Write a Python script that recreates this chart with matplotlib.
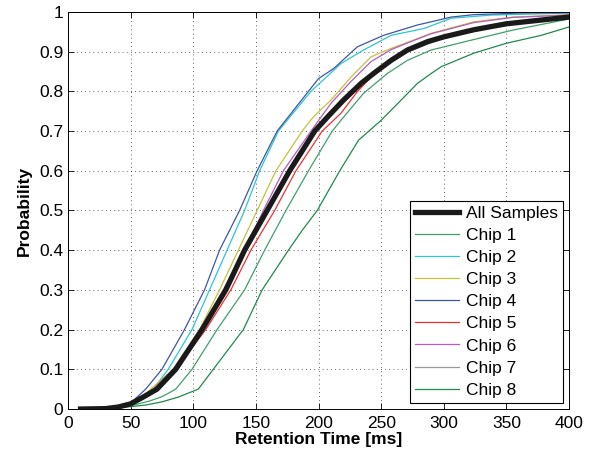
import matplotlib
matplotlib.use('Agg')
import matplotlib.pyplot as plt

# CDF curves: retention time [ms] vs probability
all_x = [10, 30, 40, 50, 60, 71, 86, 107, 126, 141, 159, 177, 197, 208, 220, 234, 244, 258, 271, 287, 300, 324, 350, 400]
all_p = [0, 0.001, 0.005, 0.013, 0.03, 0.05, 0.1, 0.2, 0.3, 0.4, 0.5, 0.6, 0.7, 0.738, 0.778, 0.82, 0.845, 0.878, 0.904, 0.925, 0.937, 0.955, 0.97, 0.987]

chip1_x = [10, 30, 45, 55, 65, 75, 86, 99, 119, 141, 157, 174, 192, 211, 220, 236, 255, 271, 290, 330, 355, 400]
chip1_p = [0, 0.001, 0.005, 0.012, 0.02, 0.031, 0.05, 0.1, 0.2, 0.3, 0.4, 0.5, 0.6, 0.7, 0.735, 0.795, 0.845, 0.878, 0.904, 0.935, 0.954, 0.982]

chip2_x = [10, 30, 40, 50, 68, 80, 99, 113, 127, 141, 153, 168, 194, 218, 236, 258, 284, 306, 338, 400]
chip2_p = [0, 0.002, 0.005, 0.012, 0.05, 0.1, 0.2, 0.3, 0.4, 0.5, 0.6, 0.7, 0.8, 0.87, 0.904, 0.941, 0.958, 0.984, 0.992, 0.997]

chip3_x = [10, 30, 45, 55, 66, 84, 105, 121, 136, 151, 166, 187, 196, 210, 226, 242, 258, 276, 290, 324, 355, 400]
chip3_p = [0, 0.002, 0.008, 0.02, 0.05, 0.1, 0.2, 0.3, 0.4, 0.5, 0.6, 0.7, 0.736, 0.778, 0.836, 0.887, 0.908, 0.929, 0.946, 0.975, 0.987, 0.993]

chip4_x = [10, 30, 40, 50, 62, 75, 93, 109, 121, 137, 151, 167, 178, 192, 200, 212, 231, 252, 279, 290, 306, 324, 360, 400]
chip4_p = [0, 0.002, 0.006, 0.015, 0.05, 0.1, 0.2, 0.3, 0.4, 0.5, 0.6, 0.7, 0.744, 0.8, 0.832, 0.857, 0.912, 0.941, 0.967, 0.975, 0.987, 0.993, 0.997, 0.998]

chip5_x = [10, 30, 45, 55, 70, 86, 110, 130, 146, 165, 182, 203, 218, 231, 247, 266, 284, 300, 330, 360, 400]
chip5_p = [0, 0.001, 0.008, 0.02, 0.05, 0.1, 0.2, 0.3, 0.4, 0.5, 0.6, 0.7, 0.745, 0.799, 0.853, 0.895, 0.92, 0.935, 0.955, 0.972, 0.986]

chip6_x = [10, 30, 45, 55, 68, 84, 106, 124, 141, 156, 172, 194, 210, 226, 242, 258, 276, 290, 324, 355, 400]
chip6_p = [0, 0.002, 0.008, 0.02, 0.05, 0.1, 0.2, 0.3, 0.4, 0.5, 0.6, 0.7, 0.77, 0.825, 0.875, 0.905, 0.928, 0.945, 0.973, 0.986, 0.992]

chip7_x = [10, 30, 45, 55, 72, 87, 108, 127, 142, 160, 178, 198, 221, 235, 258, 272, 300, 330, 360, 400]
chip7_p = [0, 0.001, 0.008, 0.02, 0.05, 0.1, 0.2, 0.3, 0.4, 0.5, 0.6, 0.7, 0.78, 0.82, 0.875, 0.9, 0.935, 0.957, 0.972, 0.986]

chip8_x = [10, 30, 50, 62, 75, 88, 104, 116, 140, 155, 176, 187, 199, 217, 232, 250, 266, 279, 290, 298, 324, 350, 378, 400]
chip8_p = [0, 0.001, 0.006, 0.01, 0.018, 0.03, 0.05, 0.1, 0.2, 0.3, 0.4, 0.45, 0.5, 0.6, 0.677, 0.727, 0.778, 0.82, 0.845, 0.862, 0.896, 0.921, 0.941, 0.962]

chip_labels = ['Chip 1', 'Chip 2', 'Chip 3', 'Chip 4', 'Chip 5', 'Chip 6', 'Chip 7', 'Chip 8']
chip_colors = ['#3fa06c', '#2cc6d0', '#c2c23e', '#3f56a8', '#f03030', '#b45cc0', '#9a9a9a', '#1e8a4c']
chip_data = [(chip1_x, chip1_p), (chip2_x, chip2_p), (chip3_x, chip3_p), (chip4_x, chip4_p),
             (chip5_x, chip5_p), (chip6_x, chip6_p), (chip7_x, chip7_p), (chip8_x, chip8_p)]

plt.rcParams['font.family'] = ['Liberation Sans', 'DejaVu Sans']


def plot():
    fig = plt.figure(figsize=(5.95, 4.57), dpi=100)
    ax = fig.add_axes([0.1143, 0.105, 0.842, 0.869])

    handles = []
    for (xs, ps), lab, col in zip(chip_data, chip_labels, chip_colors):
        h, = ax.plot(xs, ps, color=col, lw=0.9, label=lab, zorder=2)
        handles.append(h)
    h_all, = ax.plot(all_x, all_p, color='#1a1a1a', lw=3.8, label='All Samples', zorder=3)

    ax.set_xlim(0, 400)
    ax.set_ylim(0, 1)
    ax.set_xticks(range(0, 401, 50))
    ax.set_yticks([i / 10 for i in range(11)])
    ax.set_yticklabels(['0', '0.1', '0.2', '0.3', '0.4', '0.5', '0.6', '0.7', '0.8', '0.9', '1'])
    ax.tick_params(direction='in', labelsize=12.5, length=4, width=0.6, top=True, right=True)
    ax.tick_params(axis='x', pad=5)
    ax.grid(True, linestyle=(0, (1, 4)), color='#333333', lw=0.6)
    for s in ax.spines.values():
        s.set_linewidth(0.7)

    ax.set_xlabel('Retention Time [ms]', fontsize=12.5, fontweight='bold', labelpad=1)
    ax.set_ylabel('Probability', fontsize=12.5, fontweight='bold', labelpad=5)

    leg = ax.legend([h_all] + handles, ['All Samples'] + chip_labels, loc='lower right',
                    fontsize=12.5, fancybox=False, framealpha=1, edgecolor='black',
                    handlelength=2.5, handletextpad=0.4, borderpad=0.3, labelspacing=0.4,
                    borderaxespad=0.35)
    leg.get_frame().set_linewidth(0.8)

    fig.savefig('out.png', dpi=100)


if __name__ == "__main__":
    plot()
